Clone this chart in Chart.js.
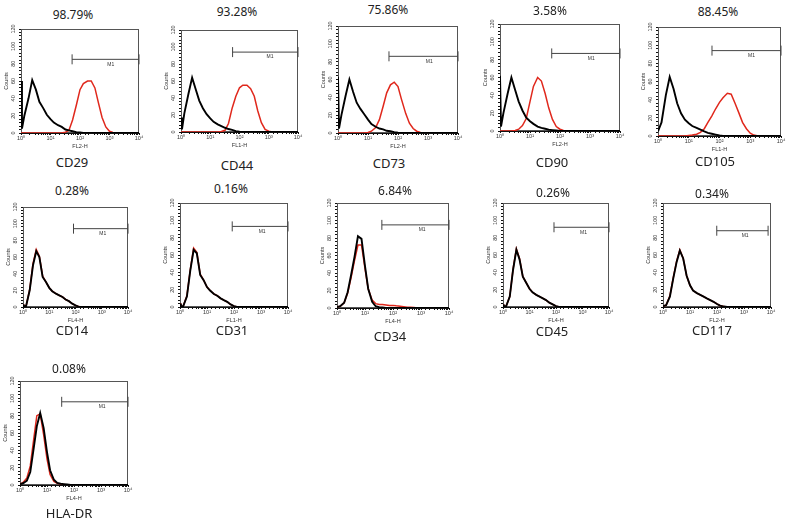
<!DOCTYPE html>
<html>
<head>
<meta charset="utf-8">
<script src="https://cdn.jsdelivr.net/npm/chart.js@4.4.0/dist/chart.umd.min.js"></script>
<style>
  html, body { margin: 0; padding: 0; background: #fff; }
  #fig { position: relative; width: 788px; height: 526px; overflow: hidden; }
  .panel { position: absolute; }
  .lbl { position: absolute; transform: translate(-50%, -50%); font-family: 'Noto Sans', sans-serif; color: #222; white-space: nowrap; }
  .pct { font-size: 12px; }
  .name { font-size: 13px; }
</style>
</head>
<body>
<div id="fig"></div>
<script>
// fluorescence channels (log axis, 10^0 .. 10^4)
const channels = [1, 1.08, 1.3, 1.8, 2.4, 3.2, 4.2, 5.6, 7.5, 10,
  13, 18, 24, 32, 42, 56, 75, 100, 130, 180,
  240, 320, 420, 560, 750, 1000, 1300, 1800, 2400, 3200,
  4200, 5600, 7500, 10000];

const markers = ['CD29', 'CD44', 'CD73', 'CD90', 'CD105', 'CD14', 'CD31', 'CD34', 'CD45', 'CD117', 'HLA-DR'];
const positive = ['98.79%', '93.28%', '75.86%', '3.58%', '88.45%', '0.28%', '0.16%', '6.84%', '0.26%', '0.34%', '0.08%'];
const detectors = ['FL2-H', 'FL1-H', 'FL2-H', 'FL2-H', 'FL1-H', 'FL4-H', 'FL1-H', 'FL4-H', 'FL4-H', 'FL2-H', 'FL4-H'];

// M1 gate
const gateStart = [54, 58, 50, 53, 57, 84, 86, 40, 84, 98, 35];
const gateEnd = [10000, 10000, 10000, 10000, 10000, 10000, 10000, 10000, 10000, 7800, 10000];
const gateLevel = [85, 94, 86, 87, 94, 94, 93, 95, 92, 88, 96];

// isotype control (black)
const isoCD29 = [60, 5, 20, 40, 61, 50, 36, 29, 21, 16, 12, 9, 7, 4, 3, 2, 1, 0.5, 0, 0, 0, 0, 0, 0, 0, 0, 0, 0, 0, 0, 0, 0, 0, 0];
const isoCD44 = [17, 3, 22, 45, 64, 50, 37, 28, 21, 16, 12, 9, 7, 5, 3.5, 2.5, 1, 0.3, 0, 0, 0, 0, 0, 0, 0, 0, 0, 0, 0, 0, 0, 0, 0, 0];
const isoCD73 = [63, 5, 20, 42, 60, 46, 34, 27, 21, 15, 10, 7, 5, 4, 2.5, 2, 1, 0.3, 0, 0, 0, 0, 0, 0, 0, 0, 0, 0, 0, 0, 0, 0, 0, 0];
const isoCD90 = [62, 5, 20, 42, 60, 46, 33, 23, 15, 11, 8, 5, 3.5, 2.5, 1.5, 1, 0.5, 0, 0, 0, 0, 0, 0, 0, 0, 0, 0, 0, 0, 0, 0, 0, 0, 0];
const isoCD105 = [5, 8, 15, 45, 65, 52, 36, 25, 18, 14, 11, 9, 7, 5, 3.5, 2.5, 1.5, 0.5, 0, 0, 0, 0, 0, 0, 0, 0, 0, 0, 0, 0, 0, 0, 0, 0];
const isoCD14 = [3, 1, 0.5, 20, 50, 67, 60, 36, 30, 23, 19, 16, 14, 12, 9, 7, 4, 2, 0.5, 0, 0, 0, 0, 0, 0, 0, 0, 0, 0, 0, 0, 0, 0, 0];
const isoCD31 = [4, 1, 0.5, 12, 42, 66, 62, 37, 31, 23, 19, 15, 13, 10, 8, 6, 3, 1, 0, 0, 0, 0, 0, 0, 0, 0, 0, 0, 0, 0, 0, 0, 0, 0];
const isoCD34 = [1, 1, 2, 6, 18, 38, 58, 82, 79, 48, 22, 7, 2, 1, 0.5, 0, 0, 0, 0, 0, 0, 0, 0, 0, 0, 0, 0, 0, 0, 0, 0, 0, 0, 0];
const isoCD45 = [3, 1, 0.5, 12, 43, 66, 55, 35, 28, 21, 17, 14, 12, 10, 8, 5, 3, 1, 0, 0, 0, 0, 0, 0, 0, 0, 0, 0, 0, 0, 0, 0, 0, 0];
const isoCD117 = [1, 1, 2, 12, 33, 52, 65, 56, 36, 25, 19, 16, 14, 12, 10, 8, 6, 3.5, 1.5, 0.5, 0, 0, 0, 0, 0, 0, 0, 0, 0, 0, 0, 0, 0, 0];
const isoHLADR = [1, 1, 2, 5, 15, 42, 68, 83, 66, 38, 17, 6, 2.5, 1.5, 1, 0.5, 0, 0, 0, 0, 0, 0, 0, 0, 0, 0, 0, 0, 0, 0, 0, 0, 0, 0];

// stained sample (red)
const stainCD29 = [0, 0, 0, 0, 0, 0, 0, 0, 0, 0, 0, 0, 0, 1, 3, 15, 32, 50, 57, 60, 60, 52, 35, 18, 7, 2, 0.5, 0, 0, 0, 0, 0, 0, 0];
const stainCD44 = [0, 0, 0, 0, 0, 0, 0, 0, 0, 0, 0, 0, 0.5, 2, 10, 28, 42, 52, 55, 55, 51, 42, 25, 11, 3, 1, 0, 0, 0, 0, 0, 0, 0, 0];
const stainCD73 = [0, 0, 0, 0, 0, 0, 0, 0, 0, 0.5, 2, 6, 15, 30, 45, 54, 57, 52, 38, 22, 11, 5, 2, 0.5, 0, 0, 0, 0, 0, 0, 0, 0, 0, 0];
const stainCD90 = [0, 0, 0, 0, 0, 0.5, 2, 6, 14, 33, 50, 60, 56, 42, 26, 13, 5, 2, 0.5, 0, 0, 0, 0, 0, 0, 0, 0, 0, 0, 0, 0, 0, 0, 0];
const stainCD105 = [0, 0, 0, 0, 0, 0, 0, 0, 0, 0.5, 1, 2, 4, 8, 15, 22, 30, 37, 42, 47, 46, 36, 26, 15, 8, 3, 1, 0, 0, 0, 0, 0, 0, 0];
const stainCD14 = [3, 1, 0.5, 21, 52, 69, 61, 37, 30, 23, 19, 16, 14, 12, 9, 7, 4, 2, 0.5, 0, 0, 0, 0, 0, 0, 0, 0, 0, 0, 0, 0, 0, 0, 0];
const stainCD31 = [4, 1, 0.5, 13, 43, 68, 63, 38, 31, 23, 19, 15, 13, 10, 8, 6, 3, 1, 0, 0, 0, 0, 0, 0, 0, 0, 0, 0, 0, 0, 0, 0, 0, 0];
const stainCD34 = [1, 1, 2, 6, 17, 35, 54, 72, 72, 45, 22, 9, 5, 4, 4, 3.5, 3, 3, 2.5, 2, 1.5, 1, 0.8, 0.5, 0, 0, 0, 0, 0, 0, 0, 0, 0, 0];
const stainCD45 = [3, 1, 0.5, 12, 44, 67, 56, 35, 28, 21, 17, 14, 12, 10, 8, 5, 3, 1, 0, 0, 0, 0, 0, 0, 0, 0, 0, 0, 0, 0, 0, 0, 0, 0];
const stainCD117 = [1, 1, 2, 13, 34, 53, 66, 56, 36, 25, 19, 16, 14, 12, 10, 8, 6, 3.5, 1.5, 0.5, 0, 0, 0, 0, 0, 0, 0, 0, 0, 0, 0, 0, 0, 0];
const stainHLADR = [1, 1, 3, 8, 22, 52, 80, 82, 58, 30, 12, 4, 2, 1, 0.5, 0, 0, 0, 0, 0, 0, 0, 0, 0, 0, 0, 0, 0, 0, 0, 0, 0, 0, 0];

const isotype = [isoCD29, isoCD44, isoCD73, isoCD90, isoCD105, isoCD14, isoCD31, isoCD34, isoCD45, isoCD117, isoHLADR];
const stained = [stainCD29, stainCD44, stainCD73, stainCD90, stainCD105, stainCD14, stainCD31, stainCD34, stainCD45, stainCD117, stainHLADR];

// page layout: plot box [left, top, right, bottom] and text centres
const boxes = [
  [21, 29, 139, 133], [181, 30, 298, 132], [338, 26, 458, 133], [500, 24, 620, 131], [658, 27, 781, 136],
  [23, 207, 128, 307], [180, 203, 288, 307], [337, 203, 449, 308], [503, 203, 609, 307], [663, 203, 771, 307],
  [20, 381, 128, 485]
];
const pctAt = [[73, 14], [237, 11], [388, 9], [550, 10], [718, 11], [72, 190], [231, 188], [395, 190], [553, 192], [712, 193], [69, 368]];
const nameAt = [[72, 162], [237, 165], [389, 163], [552, 162], [715, 161], [72, 330], [232, 330], [390, 336], [552, 331], [712, 330], [69, 513]];

const YW = 18, PT = 6, PR = 7, XH = 17;
const tickFont = { family: 'Liberation Sans', size: 5.5 };
const sup = ['\u2070', '\u00b9', '\u00b2', '\u00b3', '\u2074'];

// frame around the plot + "M1" text
const framePlugin = {
  id: 'frame',
  beforeDatasetsDraw(chart) {
    const { ctx, chartArea: a } = chart;
    ctx.save();
    ctx.strokeStyle = '#555';
    ctx.lineWidth = 1;
    ctx.strokeRect(Math.round(a.left) + 0.5, Math.round(a.top) + 0.5, Math.round(a.right - a.left) - 1, Math.round(a.bottom - a.top) - 1);
    ctx.restore();
  },
  afterDatasetsDraw(chart, args, opts) {
    const { ctx } = chart;
    const x = chart.scales.x.getPixelForValue(opts.textAt);
    const y = chart.scales.y.getPixelForValue(opts.level);
    ctx.save();
    ctx.fillStyle = '#333';
    ctx.font = '5px Liberation Sans';
    ctx.textAlign = 'center';
    ctx.textBaseline = 'middle';
    ctx.fillText('M1', x, y + 5);
    ctx.restore();
  }
};

const fig = document.getElementById('fig');

function addText(cls, text, pos) {
  const d = document.createElement('div');
  d.className = 'lbl ' + cls;
  d.textContent = text;
  d.style.left = pos[0] + 'px';
  d.style.top = pos[1] + 'px';
  fig.appendChild(d);
}

markers.forEach((name, i) => {
  const [bl, bt, br, bb] = boxes[i];
  const w = br - bl + YW + PR;
  const h = bb - bt + PT + XH;
  const canvas = document.createElement('canvas');
  canvas.className = 'panel';
  canvas.width = w;
  canvas.height = h;
  canvas.style.left = (bl - YW) + 'px';
  canvas.style.top = (bt - PT) + 'px';
  canvas.style.width = w + 'px';
  canvas.style.height = h + 'px';
  fig.appendChild(canvas);

  new Chart(canvas.getContext('2d'), {
    type: 'line',
    data: {
      datasets: [{
        data: channels.map((x, k) => ({ x: x, y: isotype[i][k] })),
        borderColor: '#000',
        borderWidth: 1.9,
        pointRadius: 0
      }, {
        data: channels.map((x, k) => ({ x: x, y: stained[i][k] })),
        borderColor: '#e0281c',
        borderWidth: 1.5,
        pointRadius: 0
      }, {
        data: [{ x: gateStart[i], y: gateLevel[i] }, { x: gateEnd[i], y: gateLevel[i] }],
        borderColor: '#444',
        borderWidth: 1,
        pointStyle: 'line',
        pointRotation: 90,
        pointRadius: 5,
        pointBorderWidth: 1,
        pointBorderColor: '#444',
        clip: false
      }]
    },
    options: {
      responsive: false,
      animation: false,
      events: [],
      layout: { padding: { top: PT, right: PR, left: 0, bottom: 0 } },
      plugins: {
        legend: { display: false },
        tooltip: { enabled: false },
        frame: { level: gateLevel[i], textAt: 1100 }
      },
      scales: {
        x: {
          type: 'logarithmic',
          min: 1,
          max: 10000,
          afterFit: s => { s.height = XH; },
          border: { display: true, color: '#111', width: 1 },
          grid: { drawOnChartArea: false, drawTicks: true, tickLength: 2, color: '#111' },
          ticks: {
            autoSkip: false,
            maxRotation: 0,
            padding: 0,
            color: '#333',
            font: tickFont,
            callback: v => {
              const p = Math.log10(v);
              return Math.abs(p - Math.round(p)) < 1e-9 ? '10' + sup[Math.round(p)] : '';
            }
          },
          title: { display: true, text: detectors[i], color: '#333', font: { family: 'Liberation Sans', size: 5.5 }, padding: 0 }
        },
        y: {
          min: 0,
          max: 120,
          afterFit: s => { s.width = YW; },
          border: { display: true, color: '#111', width: 1 },
          grid: { drawOnChartArea: false, drawTicks: true, tickLength: 2, color: '#111' },
          ticks: {
            stepSize: 4,
            autoSkip: false,
            minRotation: 90,
            maxRotation: 90,
            crossAlign: 'center',
            padding: 1,
            color: '#333',
            font: tickFont,
            callback: v => (v % 20 === 0 ? String(v) : '')
          },
          title: { display: true, text: 'Counts', color: '#333', font: { family: 'Liberation Sans', size: 5.5 }, padding: 0 }
        }
      }
    },
    plugins: [framePlugin]
  });

  addText('pct', positive[i], pctAt[i]);
  addText('name', name, nameAt[i]);
});
</script>
</body>
</html>
